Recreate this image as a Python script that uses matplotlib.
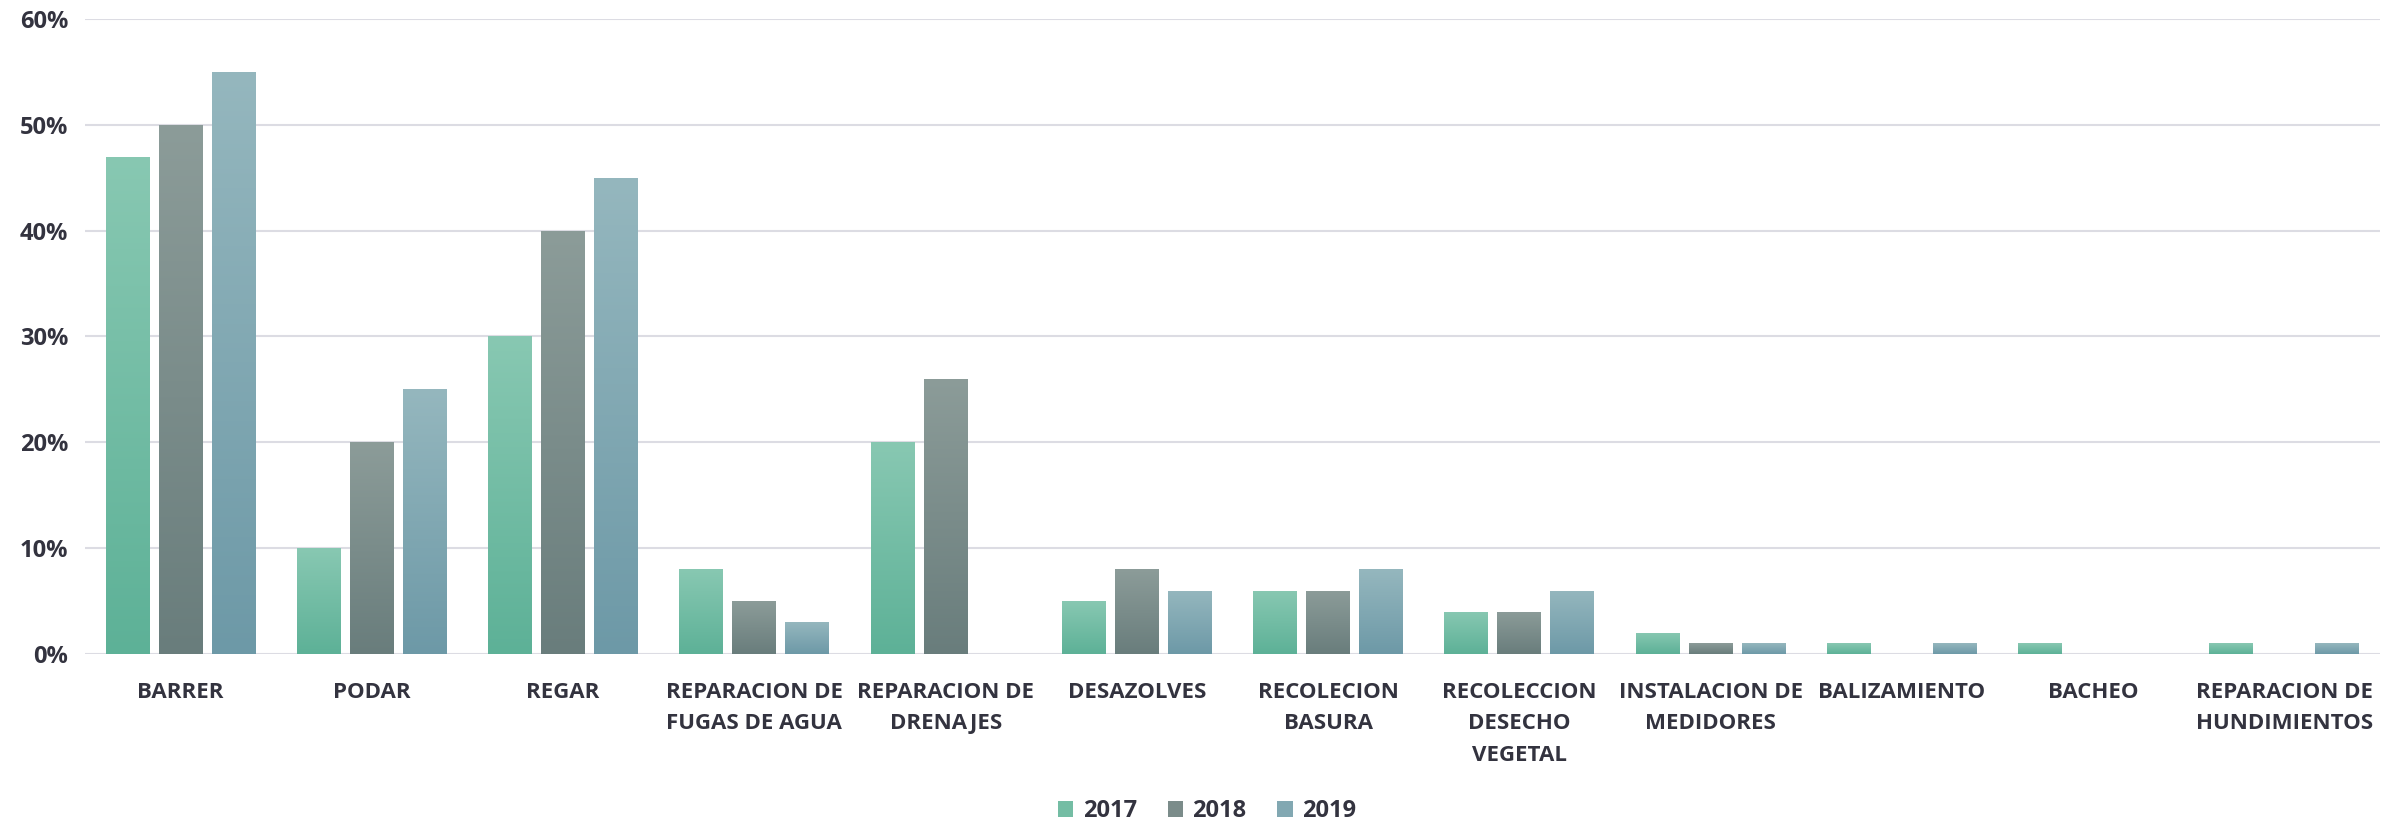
import matplotlib.pyplot as plt
import numpy as np
from matplotlib.colors import LinearSegmentedColormap
from matplotlib.patches import Patch
from matplotlib.ticker import FuncFormatter

categories = ['BARRER', 'PODAR', 'REGAR', 'REPARACION DE\nFUGAS DE AGUA',
              'REPARACION DE\nDRENAJES', 'DESAZOLVES', 'RECOLECION\nBASURA',
              'RECOLECCION\nDESECHO\nVEGETAL', 'INSTALACION DE\nMEDIDORES',
              'BALIZAMIENTO', 'BACHEO', 'REPARACION DE\nHUNDIMIENTOS']
years = ['2017', '2018', '2019']
v2017 = [47, 10, 30, 8, 20, 5, 6, 4, 2, 1, 1, 1]
v2018 = [50, 20, 40, 5, 26, 8, 6, 4, 1, 0, 0, 0]
v2019 = [55, 25, 45, 3, 0, 6, 8, 6, 1, 1, 0, 1]

# (top, bottom) gradient colours per series
grads = [('#88c8b2', '#5db197'), ('#8c9c99', '#697d7c'), ('#95b7be', '#6d99a7')]
legend_colors = ['#74bda4', '#7b8c8a', '#82a8b2']
txt = '#33333f'

plt.rcParams['font.family'] = ['Open Sans', 'DejaVu Sans']

fig, ax = plt.subplots(figsize=(24, 8.23), dpi=100)
fig.subplots_adjust(left=0.0354, right=0.9917, top=0.977, bottom=0.2053)

x = np.arange(len(categories))
w = 0.23
step = 0.277
grad = np.linspace(1, 0, 256).reshape(-1, 1)
for i, (vals, (ctop, cbot)) in enumerate(zip([v2017, v2018, v2019], grads)):
    cmap = LinearSegmentedColormap.from_list(f'g{i}', [cbot, ctop])
    bars = ax.bar(x + (i - 1) * step, vals, width=w, color='none', zorder=3)
    for b in bars:
        if b.get_height() <= 0:
            continue
        x0, y0 = b.get_x(), b.get_y()
        im = ax.imshow(grad, cmap=cmap, aspect='auto', zorder=3,
                       extent=[x0, x0 + b.get_width(), y0, y0 + b.get_height()])
        im.set_clip_path(b)

ax.set_xlim(-0.5, len(categories) - 0.5)
ax.set_ylim(0, 60)
ax.set_yticks(np.arange(0, 61, 10))
ax.yaxis.set_major_formatter(FuncFormatter(lambda v, p: f'{v:.0f}%'))
ax.set_xticks(x)
ax.set_xticklabels(categories, linespacing=1.65)
ax.tick_params(axis='x', length=0, labelsize=16, labelcolor=txt, pad=20)
ax.tick_params(axis='y', length=0, labelsize=17, labelcolor=txt, pad=12)
for lab in ax.get_xticklabels() + ax.get_yticklabels():
    lab.set_fontweight('bold')
ax.grid(axis='y', color='#dcdce3', linewidth=1.5, zorder=0)
ax.set_axisbelow(True)
for s in ax.spines.values():
    s.set_visible(False)

handles = [Patch(facecolor=c, label=y) for y, c in zip(years, legend_colors)]
leg = fig.legend(handles=handles, loc='center', bbox_to_anchor=(0.503, 0.014), ncol=3,
                 frameon=False, fontsize=17, handlelength=0.65, handleheight=0.65,
                 handletextpad=0.4, columnspacing=1.3, labelcolor=txt)
for t in leg.get_texts():
    t.set_fontweight('bold')

fig.savefig('out.png', dpi=100)
